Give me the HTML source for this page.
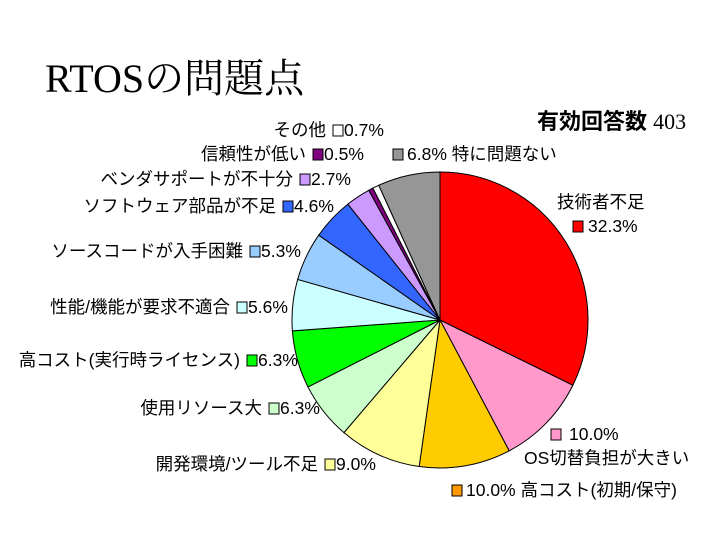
<!DOCTYPE html>
<html><head><meta charset="utf-8"><style>
body{margin:0;background:#fff}
svg{display:block}
text{font-family:"Liberation Sans","Noto Sans CJK JP",sans-serif;font-size:17.5px;fill:#000}
</style></head><body>
<svg width="720" height="540" viewBox="0 0 720 540">
<text x="45" y="92" style="font-family:'Liberation Serif','Noto Serif CJK SC',serif;font-size:40px">RTOSの問題点</text>
<text x="537" y="129" style="font-size:22px;font-weight:bold">有効回答数 <tspan style="font-family:'Liberation Serif',serif;font-weight:normal">403</tspan></text>
<g id="slices"></g>
<g id="labels"></g>
<script>
const categories=["技術者不足","OS切替負担が大きい","高コスト(初期/保守)","開発環境/ツール不足","使用リソース大","高コスト(実行時ライセンス)","性能/機能が要求不適合","ソースコードが入手困難","ソフトウェア部品が不足","ベンダサポートが不十分","信頼性が低い","その他","特に問題ない"];
const values=[32.3,10.0,10.0,9.0,6.3,6.3,5.6,5.3,4.6,2.7,0.5,0.7,6.8];
const valueLabels=["32.3%","10.0%","10.0%","9.0%","6.3%","6.3%","5.6%","5.3%","4.6%","2.7%","0.5%","0.7%","6.8%"];
const colors=["#ff0000","#ff99cc","#ffcc00","#ffff99","#ccffcc","#00ff00","#ccffff","#99ccff","#3366ff","#cc99ff","#800080","#ffffff","#969696"];
const boxColors=["#ff0000","#ff99cc","#ff9900","#ffff99","#ccffcc","#00ff00","#ccffff","#99ccff","#3366ff","#cc99ff","#800080","#ffffff","#969696"];
const layout=[[557,208,'start','two'],[551,440,'start','two2'],[452,496,'start','bn'],[318,470,'end','nb'],[262,414,'end','nb'],[240,366,'end','nb'],[230,313,'end','nb'],[243,257,'end','nb'],[276,212,'end','nb'],[293,185,'end','nb'],[306,160,'end','nb'],[326,136,'end','nb'],[393,160,'start','bn']];
const NS="http://www.w3.org/2000/svg";
const cx=440,cy=320,r=148;
const total=values.reduce((a,b)=>a+b,0);
function angle(v){return v/total*2*Math.PI;}
function pt(a){return [cx+r*Math.sin(a),cy-r*Math.cos(a)];}
const gs=document.getElementById('slices'),gl=document.getElementById('labels');
let a0=0;
values.forEach((v,i)=>{
  const a1=a0+angle(v);
  const p0=pt(a0),p1=pt(a1);
  const p=document.createElementNS(NS,'path');
  p.setAttribute('d',`M${cx},${cy}L${p0[0]},${p0[1]}A${r},${r} 0 ${a1-a0>Math.PI?1:0} 1 ${p1[0]},${p1[1]}Z`);
  p.setAttribute('fill',colors[i]);p.setAttribute('stroke','#000');p.setAttribute('stroke-width','1');
  
  
  gs.appendChild(p);
  a0=a1;
});
function addText(x,y,s,anchor,name){
  const t=document.createElementNS(NS,'text');
  t.setAttribute('x',x);t.setAttribute('y',y);t.setAttribute('text-anchor',anchor);t.textContent=s;
  
  
  gl.appendChild(t);return t;
}
function addBox(x,y,c,name){
  const b=document.createElementNS(NS,'rect');
  b.setAttribute('x',x);b.setAttribute('y',y-11);b.setAttribute('width',10);b.setAttribute('height',11);
  b.setAttribute('fill',c);b.setAttribute('stroke','#000');
  
  
  gl.appendChild(b);
}
categories.forEach((c,i)=>{
  const [x,y,anc,mode]=layout[i];
  if(mode==='two'){
    addText(x,y,c,'start','label-name');
    addBox(x+16,y+24,boxColors[i],'legend-box');
    addText(x+31,y+24,valueLabels[i],'start','label-value');
  }else if(mode==='two2'){
    addBox(x,y,boxColors[i],'legend-box');
    addText(x+18,y,valueLabels[i],'start','label-value');
    addText(x-27,y+24,c,'start','label-name');
  }else if(mode==='bn'){
    addBox(x,y,boxColors[i],'legend-box');
    addText(x+14,y,valueLabels[i]+' '+c,'start','label-text');
  }else{
    addText(x,y,c,'end','label-name');
    addBox(x+7,y,boxColors[i],'legend-box');
    addText(x+18,y,valueLabels[i],'start','label-value');
  }
});
</script>
</svg>
</body></html>
